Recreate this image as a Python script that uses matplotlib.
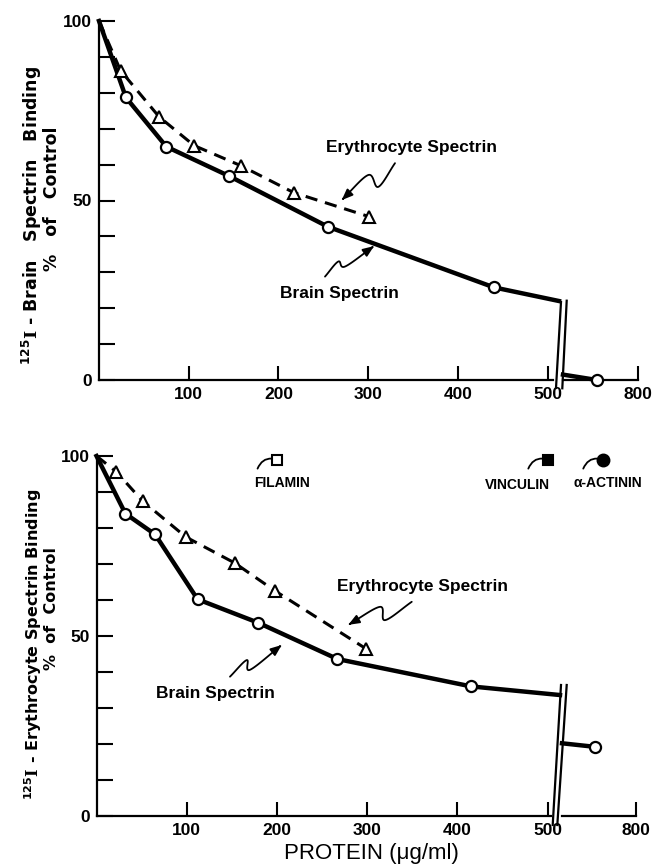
import numpy as np
import matplotlib
matplotlib.use('Agg')
import matplotlib.pyplot as plt
from matplotlib.path import Path
from matplotlib.patches import FancyArrowPatch
from matplotlib.lines import Line2D

plt.rcParams['font.family'] = ['Liberation Sans', 'DejaVu Sans']
plt.rcParams['font.weight'] = 'bold'
plt.rcParams['mathtext.fontset'] = 'custom'
plt.rcParams['mathtext.rm'] = 'DejaVu Serif'
plt.rcParams['mathtext.sf'] = 'DejaVu Sans:bold'

# ---------------- data ----------------
# Panel A : 125I-brain spectrin binding (% of control) vs protein (ug/ml)
a_brain_x = [0, 30, 75, 145, 255, 440, 690]
a_brain_y = [100, 78.7, 65.0, 56.8, 42.7, 25.8, 0.0]
a_brain_break = [22.0, 1.5]          # curve value at left / right edge of the axis break
a_ery_x = [0, 24, 67, 106, 158, 217, 301]
a_ery_y = [100, 86.2, 73.3, 65.3, 59.7, 52.2, 45.5]

# Panel B : 125I-erythrocyte spectrin binding (% of control)
b_brain_x = [0, 32, 65, 112, 179, 267, 415, 690]
b_brain_y = [100, 84.0, 78.2, 60.2, 53.7, 43.6, 36.0, 19.2]
b_brain_break = [33.6, 20.2]
b_ery_x = [0, 22, 51, 99, 153, 198, 299]
b_ery_y = [100, 95.6, 87.5, 77.5, 70.3, 62.5, 46.4]

other_names = ['FILAMIN', 'VINCULIN', 'α-ACTININ']
other_x = [200, 500, 710]
other_y = [99, 99, 99]

x_ticks_left = [100, 200, 300, 400, 500]
x_ticks_right = [800]
y_ticks = [0, 50, 100]

# ---------------- figure / axes ----------------
W, H = 657, 867
fig = plt.figure(figsize=(W / 100, H / 100), dpi=100)


def frac(px, py):
    return px / W, 1 - py / H


def make_axes(x0, y_top, y_bot, x_break, x_r0, x_r1, left_lim, spine_end):
    b = 1 - y_bot / H
    h = (y_bot - y_top) / H
    axL = fig.add_axes([x0 / W, b, (x_break - x0) / W, h])
    axR = fig.add_axes([x_r0 / W, b, (x_r1 - x_r0) / W, h])
    axL.set_xlim(0, left_lim)
    axR.set_xlim(600, 800)
    for ax in (axL, axR):
        ax.set_ylim(0, 100)
        ax.patch.set_visible(False)
        ax.spines['top'].set_visible(False)
        ax.spines['right'].set_visible(False)
        ax.spines['bottom'].set_linewidth(1.6)
        ax.tick_params(axis='x', direction='in', length=10, width=1.5, pad=5, labelsize=12.5)
    axR.spines['left'].set_visible(False)
    axL.spines['left'].set_linewidth(1.6)
    axL.spines['bottom'].set_bounds(0, spine_end)
    axL.set_xticks(x_ticks_left)
    axR.set_xticks(x_ticks_right)
    axR.set_yticks([])
    axL.set_yticks(y_ticks)
    axL.set_yticks(range(10, 100, 10), minor=True)
    axL.tick_params(axis='y', which='both', direction='in', length=11.5, width=1.5,
                    pad=5, labelsize=12.5)
    return axL, axR


axA, axAr = make_axes(99, 21, 380, 559, 563, 638.3, (559 - 99) / 0.8975, 506)
axB, axBr = make_axes(96.5, 456, 816, 560, 562, 636, (560 - 96.5) / 0.9025, 504)


def draw_panel(axL, axR, bx, by, brk, ex, ey):
    xl = axL.get_xlim()[1]
    xr = axR.get_xlim()[0]
    bx = np.asarray(bx, float)
    by = np.asarray(by, float)
    left = bx < xl
    axL.plot(np.r_[bx[left], xl], np.r_[by[left], brk[0]], color='k', lw=3.2,
             solid_joinstyle='round', zorder=2, clip_on=False)
    axL.plot(bx[left][1:], by[left][1:], 'o', ms=8, mfc='white', mec='k', mew=1.6,
             zorder=4, clip_on=False)
    axR.plot(np.r_[xr, bx[~left]], np.r_[brk[1], by[~left]], color='k', lw=3.2,
             zorder=2, clip_on=False)
    axR.plot(bx[~left], by[~left], 'o', ms=8, mfc='white', mec='k', mew=1.6,
             zorder=4, clip_on=False)
    axL.plot(ex, ey, color='k', lw=2.2, ls=(0, (4, 2.6)), zorder=2, clip_on=False)
    axL.plot(ex[1:], ey[1:], '^', ms=9, mfc='white', mec='k', mew=1.5, zorder=4,
             clip_on=False)


draw_panel(axA, axAr, a_brain_x, a_brain_y, a_brain_break, a_ery_x, a_ery_y)
draw_panel(axB, axBr, b_brain_x, b_brain_y, b_brain_break, b_ery_x, b_ery_y)


# ---------------- squiggly arrows ----------------
def catmull(P, n=24):
    P = np.vstack([2 * P[0] - P[1], P, 2 * P[-1] - P[-2]])
    out = []
    t = np.linspace(0, 1, n, endpoint=False)[:, None]
    for i in range(1, len(P) - 2):
        p0, p1, p2, p3 = P[i - 1], P[i], P[i + 1], P[i + 2]
        out.append(0.5 * (2 * p1 + (-p0 + p2) * t + (2 * p0 - 5 * p1 + 4 * p2 - p3) * t ** 2
                          + (-p0 + 3 * p1 - 3 * p2 + p3) * t ** 3))
    out.append(P[-2][None])
    return np.vstack(out)


def squiggle(ax, pts):
    disp = ax.transData.transform(np.asarray(pts, float))
    curve = ax.transData.inverted().transform(catmull(disp))
    arr = FancyArrowPatch(path=Path(curve), arrowstyle='-|>,head_length=0.55,head_width=0.22',
                          mutation_scale=12, lw=1.3, color='k', transform=ax.transData,
                          clip_on=False, zorder=5)
    ax.add_patch(arr)


squiggle(axA, [(329.8, 60.4), (311.2, 53.8), (300.0, 57.1), (270.4, 50.1)])
squiggle(axA, [(251.8, 28.8), (266.6, 33.0), (274.1, 31.6), (306.4, 37.3)])
squiggle(axB, [(349.3, 59.5), (319.7, 54.4), (314.1, 58.1), (279.0, 53.1)])
squiggle(axB, [(147.9, 38.7), (166.4, 43.3), (170.0, 40.6), (205.2, 47.5)])

txt = dict(fontsize=12.5, ha='center', va='center', clip_on=False)
axA.text(348.7, 64.9, 'Erythrocyte Spectrin', **txt)
axA.text(267.4, 24.2, 'Brain Spectrin', **txt)
axB.text(360.7, 63.7, 'Erythrocyte Spectrin', **txt)
axB.text(131.3, 34.1, 'Brain Spectrin', **txt)

# ---------------- other proteins (panel B) ----------------
other_axes = [axB, axB, axBr]
other_style = [dict(marker='s', ms=7, mfc='white'), dict(marker='s', ms=7, mfc='black'),
               dict(marker='o', ms=8.5, mfc='black')]
text_offsets = [(3.6, -17), (-22, -18), (4, -17)]
for name, x, y, ax, st, off in zip(other_names, other_x, other_y, other_axes,
                                    other_style, text_offsets):
    ax.plot([x], [y], ls='none', mec='k', mew=1.5, clip_on=False, zorder=5, **st)
    ax.annotate('', xy=(x, y), xytext=(-14, -6.5), textcoords='offset points',
                arrowprops=dict(arrowstyle='-', connectionstyle='arc3,rad=-0.45', lw=1.3,
                                shrinkA=0, shrinkB=4, color='k'),
                annotation_clip=False)
    ax.annotate(name, xy=(x, y), xytext=off, textcoords='offset points', fontsize=10,
                ha='center', va='center', annotation_clip=False)

# ---------------- axis breaks ----------------
for (xa0, ya0, xa1, ya1) in [(561, 302, 556, 388), (566.7, 300.7, 562.3, 388.3),
                             (561, 685, 552.7, 825), (566.7, 685, 557.3, 825)]:
    p0 = frac(xa0, ya0)
    p1 = frac(xa1, ya1)
    fig.add_artist(Line2D([p0[0], p1[0]], [p0[1], p1[1]], transform=fig.transFigure,
                          color='k', lw=1.6))

# ---------------- axis labels ----------------
labA = dict(rotation=90, ha='center', va='center', fontsize=12.5, family=['DejaVu Sans'])
labB = dict(rotation=90, ha='center', va='center', fontsize=11.5, family=['DejaVu Sans'])
fig.text(*frac(32, 215), r'$^{\mathsf{125}}\mathrm{I}$ - Brain   Spectrin   Binding', **labA)
fig.text(*frac(52, 199), '%   of   Control', **labA)
fig.text(*frac(33, 644), r'$^{\mathsf{125}}\mathrm{I}$ - Erythrocyte Spectrin Binding', **labB)
fig.text(*frac(52, 609), '%  of  Control', **labB)
fig.text(*frac(371, 853), 'PROTEIN (μg/ml)', ha='center', va='center', fontsize=16,
         weight='normal')

fig.savefig('out.png', dpi=100)
